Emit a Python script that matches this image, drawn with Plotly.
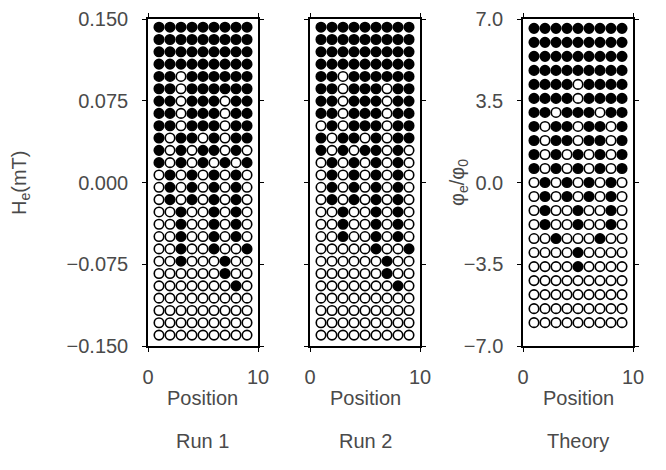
import plotly.graph_objects as go

# ---- data ----
positions = [1, 2, 3, 4, 5, 6, 7, 8, 9]

run_field_mT = [0.1425, 0.1312, 0.1199, 0.1086, 0.0973, 0.0860, 0.0747, 0.0634,
                0.0521, 0.0408, 0.0295, 0.0182, 0.0069, -0.0044, -0.0157, -0.0270,
                -0.0383, -0.0496, -0.0609, -0.0722, -0.0835, -0.0948, -0.1061,
                -0.1174, -0.1287, -0.1400]

theory_flux = [6.6, 6.0, 5.4, 4.8, 4.2, 3.6, 3.0, 2.4, 1.8, 1.2, 0.6, 0.0,
               -0.6, -1.2, -1.8, -2.4, -3.0, -3.6, -4.2, -4.8, -5.4, -6.0]

# 1 = filled (state), 0 = open; one string per field row, columns = positions 1..9
run1_states = [
    "111111111", "111111111", "111111111", "111111111",
    "110111111", "110111111", "110111011", "110111011", "110111011",
    "101101011", "101011010", "101010101",
    "010101010", "010101010", "010101010",
    "001001010", "001001010", "001001010", "001001001",
    "001000100", "000000100", "000000010",
    "000000000", "000000000", "000000000", "000000000",
]

run2_states = [
    "111111111", "111111111", "111111111", "111111111",
    "110111111", "110111011", "110111011", "110111011", "010111011",
    "101101011", "101011010",
    "010101010", "010101010", "010101010", "010101010",
    "001001010", "001001010", "001001010", "000001001",
    "000000100", "000000100", "000000010",
    "000000000", "000000000", "000000000", "000000000",
]

theory_states = [
    "111111111", "111111111", "111111111", "111111111",
    "111101111", "111101111", "110111011", "101101101", "101101101",
    "101010101", "101010101",
    "010101010", "010101010", "010010010", "010010010",
    "001000100", "000010000", "000010000",
    "000000000", "000000000", "000000000", "000000000",
]

run_ticks = [0.150, 0.075, 0.0, -0.075, -0.150]
run_ticktext = ["0.150", "0.075", "0.000", "\u22120.075", "\u22120.150"]
theory_ticks = [7.0, 3.5, 0.0, -3.5, -7.0]
theory_ticktext = ["7.0", "3.5", "0.0", "\u22123.5", "\u22127.0"]
x_ticks = [0, 10]
x_ticktext = ["0", "10"]
panel_names = ["Run 1", "Run 2", "Theory"]

# ---- figure ----
W, H = 666, 470
FONT = "Liberation Sans"
TXT = "#4a4a4a"
fig = go.Figure()

panels = [
    (run1_states, run_field_mT, "x", "y"),
    (run2_states, run_field_mT, "x2", "y2"),
    (theory_states, theory_flux, "x3", "y3"),
]

for states, yvals, xa, ya in panels:
    fx, fy, ox, oy = [], [], [], []
    for row, yv in zip(states, yvals):
        for ch, xv in zip(row, positions):
            if ch == "1":
                fx.append(xv); fy.append(yv)
            else:
                ox.append(xv); oy.append(yv)
    fig.add_trace(go.Scatter(x=ox, y=oy, mode="markers", xaxis=xa, yaxis=ya,
                             marker=dict(symbol="circle", size=9.5, color="white",
                                         line=dict(color="black", width=1.6)),
                             showlegend=False, hoverinfo="skip"))
    fig.add_trace(go.Scatter(x=fx, y=fy, mode="markers", xaxis=xa, yaxis=ya,
                             marker=dict(symbol="circle", size=9.5, color="black",
                                         line=dict(color="black", width=1.6)),
                             showlegend=False, hoverinfo="skip"))

ytop = 1 - 19 / H
ybot = 1 - 346 / H
xdoms = [(148 / W, 258 / W), (310 / W, 420 / W), (523 / W, 633 / W)]

axis_common = dict(showline=True, linecolor="black", linewidth=1.5, mirror="ticks",
                   showgrid=False, zeroline=False, ticks="outside", ticklen=4,
                   tickcolor="black", tickwidth=1.2, automargin=False,
                   tickfont=dict(family=FONT, size=20, color=TXT))

layout = dict(width=W, height=H, margin=dict(l=0, r=0, t=0, b=0, autoexpand=False),
              paper_bgcolor="white", plot_bgcolor="white", showlegend=False)

for i, (d0, d1) in enumerate(xdoms):
    suffix = "" if i == 0 else str(i + 1)
    layout["xaxis" + suffix] = dict(axis_common, domain=[d0, d1], range=[0, 10],
                                    tickvals=x_ticks, ticktext=x_ticktext,
                                    anchor="y" + suffix, ticklabelstandoff=8)
    if i < 2:
        yax = dict(axis_common, domain=[ybot, ytop], range=[-0.15, 0.15],
                   tickvals=run_ticks, ticktext=run_ticktext,
                   anchor="x" + suffix, ticklabelstandoff=10)
        if i == 1:
            yax["showticklabels"] = False
    else:
        yax = dict(axis_common, domain=[ybot, ytop], range=[-7, 7],
                   tickvals=theory_ticks, ticktext=theory_ticktext,
                   anchor="x" + suffix, ticklabelstandoff=10)
    layout["yaxis" + suffix] = yax

fig.update_layout(**layout)

ann_font = dict(family=FONT, size=20, color=TXT)
for (d0, d1), name in zip(xdoms, panel_names):
    cx = (d0 + d1) / 2
    fig.add_annotation(x=cx, y=1 - 398 / H, xref="paper", yref="paper",
                       text="Position", showarrow=False, font=ann_font,
                       xanchor="center", yanchor="middle")
    fig.add_annotation(x=cx, y=1 - 441 / H, xref="paper", yref="paper",
                       text=name, showarrow=False, font=ann_font,
                       xanchor="center", yanchor="middle")

fig.add_annotation(x=20 / W, y=1 - 183 / H, xref="paper", yref="paper",
                   text="H<sub>e</sub>(mT)", showarrow=False, font=ann_font,
                   textangle=-90, xanchor="center", yanchor="middle")
fig.add_annotation(x=458 / W, y=1 - 183 / H, xref="paper", yref="paper",
                   text="\u03c6<sub>e</sub>/\u03c6<sub>0</sub>", showarrow=False,
                   font=ann_font, textangle=-90, xanchor="center", yanchor="middle")

fig.write_html("out.html")
